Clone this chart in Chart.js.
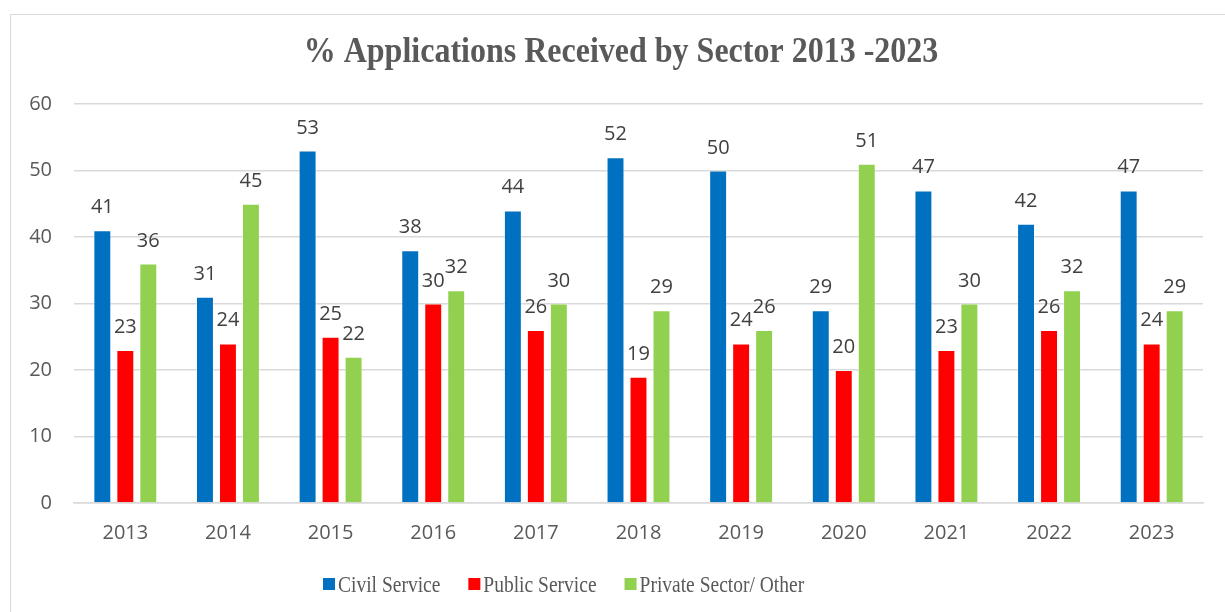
<!DOCTYPE html>
<html>
<head>
<meta charset="utf-8">
<script src="https://cdn.jsdelivr.net/npm/chart.js@4.4.0/dist/chart.umd.min.js"></script>
<style>
  html, body { margin: 0; padding: 0; background: #ffffff; }
  #frame { position: absolute; left: 10px; top: 14px; width: 1240px; height: 640px; border: 1px solid #d9d9d9; box-sizing: border-box; }
  #wrap { position: absolute; left: 0; top: 0; width: 1225px; height: 612px; }
</style>
</head>
<body>
<div id="frame"></div>
<div id="wrap"><canvas id="c" width="1225" height="612"></canvas></div>
<script>
const years = ['2013', '2014', '2015', '2016', '2017', '2018', '2019', '2020', '2021', '2022', '2023'];
const civilService = [41, 31, 53, 38, 44, 52, 50, 29, 47, 42, 47];
const publicService = [23, 24, 25, 30, 26, 19, 24, 20, 23, 26, 24];
const privateSector = [36, 45, 22, 32, 30, 29, 26, 51, 30, 32, 29];
const seriesNames = ['Civil Service', 'Public Service', 'Private Sector/ Other'];
const seriesColors = ['#0070C0', '#FF0000', '#92D050'];
const yTicks = [0, 10, 20, 30, 40, 50, 60];
const chartTitle = '% Applications Received by Sector 2013 -2023';

const sansFont = "'Open Sans', 'DejaVu Sans', sans-serif";
const serifFont = "'Liberation Serif', 'DejaVu Serif', serif";

// title centred over the framed panel, drawn slightly tall
const panelTitle = {
  id: 'panelTitle',
  afterDraw(chart) {
    const ctx = chart.ctx;
    ctx.save();
    ctx.font = 'bold 32px ' + serifFont;
    ctx.fillStyle = '#595959';
    ctx.textAlign = 'center';
    ctx.textBaseline = 'middle';
    ctx.translate(621, 53);
    ctx.scale(1, 1.1);
    ctx.fillText(chartTitle, 0, 0);
    ctx.restore();
  }
};

// value labels drawn above each bar
const valueLabels = {
  id: 'valueLabels',
  afterDatasetsDraw(chart) {
    const ctx = chart.ctx;
    ctx.save();
    ctx.font = '20px ' + sansFont;
    ctx.fillStyle = '#404040';
    ctx.textAlign = 'center';
    ctx.textBaseline = 'alphabetic';
    chart.data.datasets.forEach((ds, i) => {
      const meta = chart.getDatasetMeta(i);
      meta.data.forEach((bar, j) => {
        ctx.fillText(String(ds.data[j]), bar.x, bar.y - 17);
      });
    });
    ctx.restore();
  }
};

// legend row under the axis (serif text, slightly tall)
const bottomLegend = {
  id: 'bottomLegend',
  afterDraw(chart) {
    const ctx = chart.ctx;
    ctx.save();
    ctx.font = '19.5px ' + serifFont;
    ctx.textBaseline = 'alphabetic';
    const box = 12, gap = 3, spacing = 28, baseline = 592, stretch = 1.15;
    let x = 323;
    seriesNames.forEach((n, i) => {
      ctx.fillStyle = seriesColors[i];
      ctx.fillRect(x, 578, box, box);
      ctx.fillStyle = '#595959';
      ctx.save();
      ctx.translate(x + box + gap, baseline);
      ctx.scale(1, stretch);
      ctx.fillText(n, 0, 0);
      ctx.restore();
      x += box + gap + ctx.measureText(n).width + spacing;
    });
    ctx.restore();
  }
};

const seriesData = [civilService, publicService, privateSector];

new Chart(document.getElementById('c'), {
  type: 'bar',
  data: {
    labels: years,
    datasets: seriesNames.map((name, i) => ({
      label: name,
      data: seriesData[i],
      backgroundColor: seriesColors[i],
      borderColor: 'rgba(255,255,255,0.35)',
      borderWidth: 1,
      categoryPercentage: 0.672,
      barPercentage: 0.78
    }))
  },
  options: {
    responsive: false,
    animation: false,
    layout: { padding: { top: 104, left: 0, right: 22, bottom: 49 } },
    plugins: {
      legend: { display: false },
      tooltip: { enabled: false },
      title: { display: false }
    },
    scales: {
      x: {
        grid: { display: false, drawTicks: false },
        border: { display: true, color: '#d9d9d9', width: 1.5 },
        ticks: { color: '#595959', font: { family: sansFont, size: 20 }, padding: 18 }
      },
      y: {
        min: 0,
        max: 60,
        afterBuildTicks(scale) { scale.ticks = yTicks.map(v => ({ value: v })); },
        afterFit(scale) { scale.width = 74; },
        grid: { color: '#d9d9d9', lineWidth: 1.5, drawTicks: false },
        border: { display: false },
        ticks: { color: '#595959', font: { family: sansFont, size: 20 }, padding: 22 }
      }
    }
  },
  plugins: [valueLabels, panelTitle, bottomLegend]
});
</script>
</body>
</html>
